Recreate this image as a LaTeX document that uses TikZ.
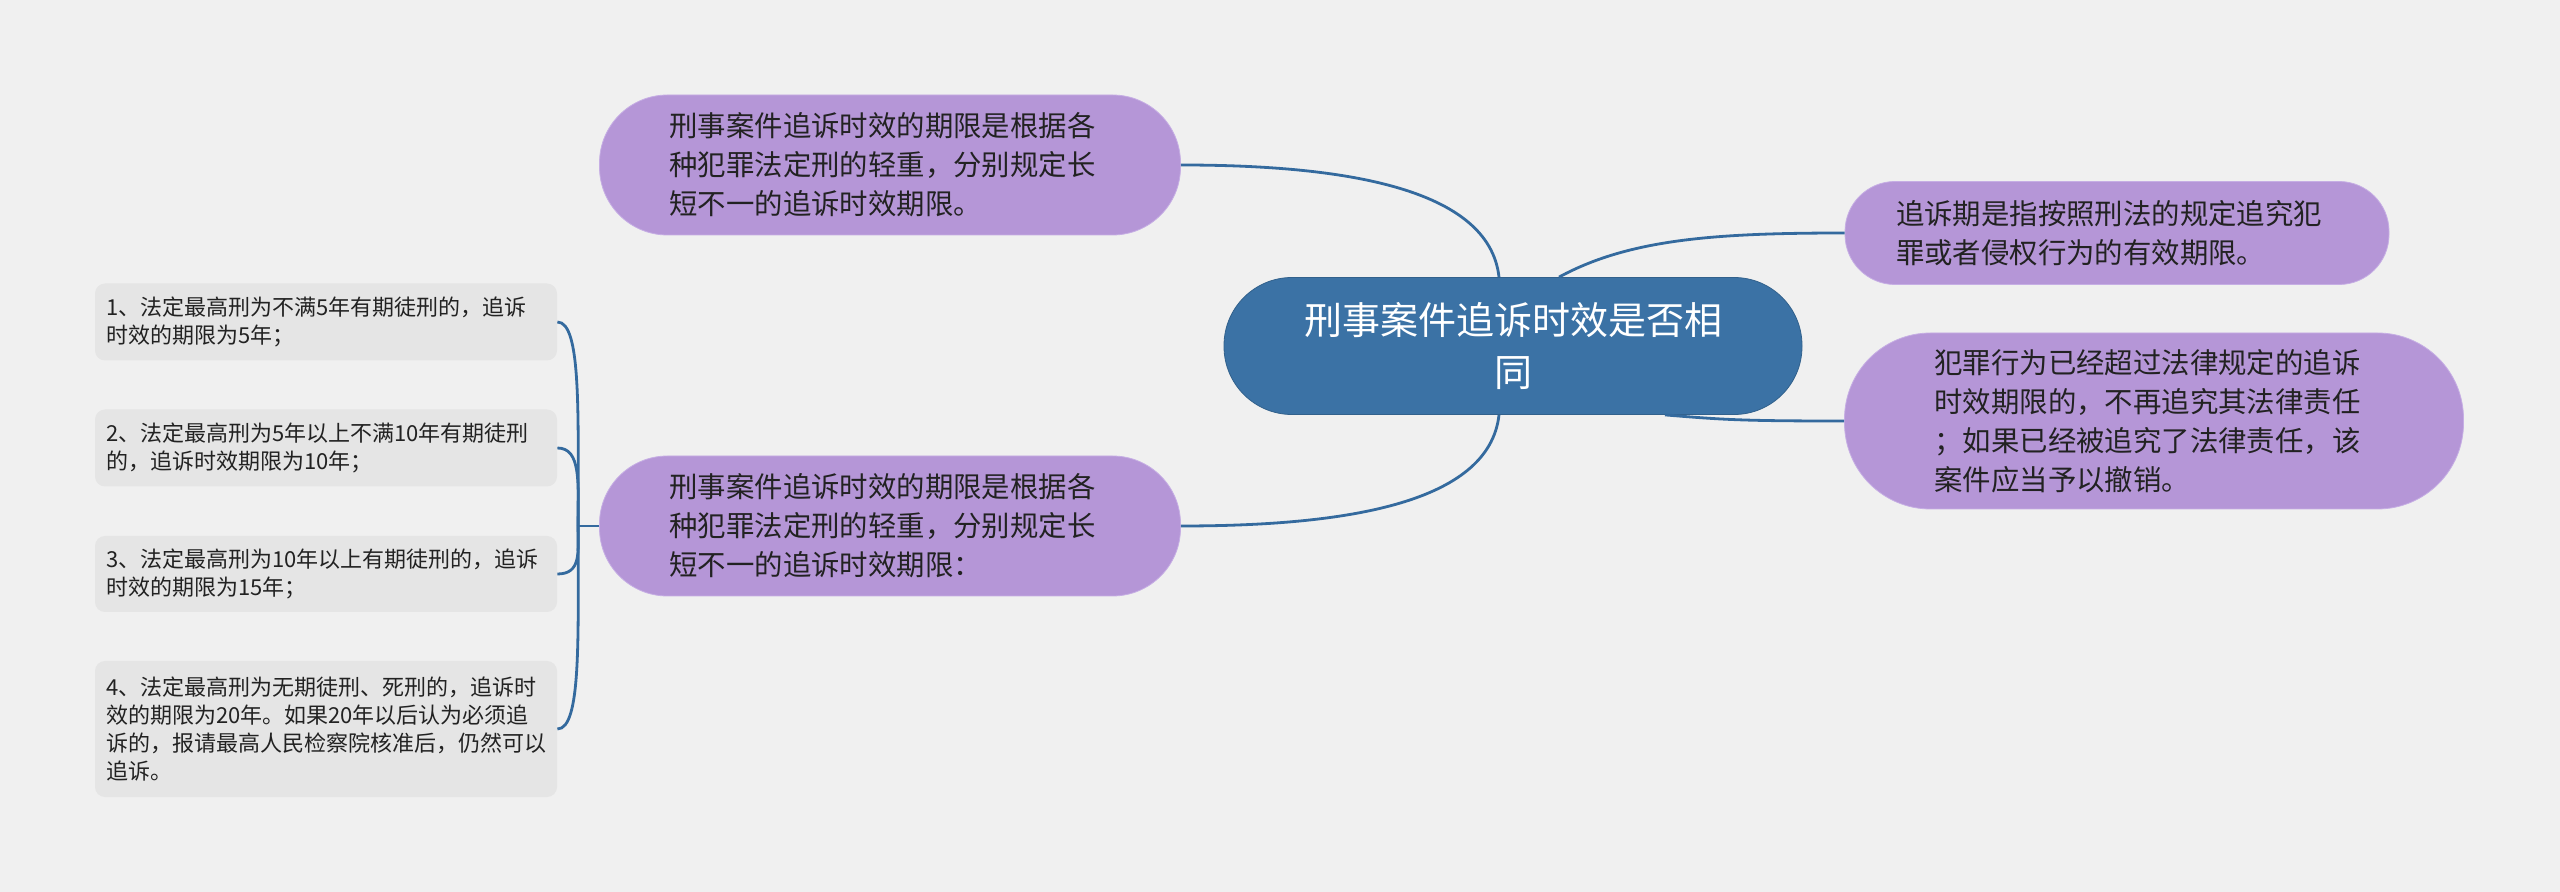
\documentclass[tikz,border=0pt]{standalone}
\usepackage{fontspec}
\newfontfamily\cjk{Noto Sans CJK SC}
\usetikzlibrary{calc}
\definecolor{bgcol}{RGB}{240,240,240}
\definecolor{rootblue}{RGB}{59,114,165}
\definecolor{linkblue}{RGB}{52,106,158}
\definecolor{lilac}{RGB}{181,150,215}
\definecolor{lilacedge}{RGB}{198,174,228}
\definecolor{leafgray}{RGB}{229,229,229}
\definecolor{inkgray}{RGB}{34,34,34}

\begin{document}
\begin{tikzpicture}[x=0.5pt, y=-0.5pt,
    root/.style={draw=rootblue!85!black, fill=rootblue, text=white, rounded corners=34pt,
      minimum width=289pt, minimum height=68.5pt, inner sep=0pt, align=center,
      font=\cjk\fontsize{19}{26}\selectfont},
    topic/.style={draw=lilacedge, fill=lilac, text=inkgray, inner ysep=0pt, align=left,
      font=\cjk\fontsize{14.2}{19.5}\selectfont},
    leaf/.style={fill=leafgray, text=inkgray, rounded corners=5pt, text width=220pt,
      inner xsep=5.5pt, inner ysep=0pt, align=left,
      font=\cjk\fontsize{11}{14}\selectfont},
    link/.style={draw=linkblue, line width=1.4pt}]

    % Background
    \fill[bgcol] (0,0) rectangle (2560,892);
    \useasboundingbox (0,0) rectangle (2560,892);

    % Draw nodes
    \node[root] (root) at (1513,346) {刑事案件追诉时效是否相\\同};

    \node[topic, rounded corners=34pt, inner xsep=35pt, text width=220.5pt, minimum height=70pt] (tl) at (890,165)
      {刑事案件追诉时效的期限是根据各\\种犯罪法定刑的轻重，分别规定长\\短不一的追诉时效期限。};
    \node[topic, rounded corners=34pt, inner xsep=35pt, text width=220.5pt, minimum height=70pt] (bl) at (890,526)
      {刑事案件追诉时效的期限是根据各\\种犯罪法定刑的轻重，分别规定长\\短不一的追诉时效期限：};
    \node[topic, rounded corners=25pt, inner xsep=25.5pt, text width=221pt, minimum height=51.5pt] (rt) at (2117,233)
      {追诉期是指按照刑法的规定追究犯\\罪或者侵权行为的有效期限。};
    \node[topic, rounded corners=43pt, inner xsep=45pt, text width=219.5pt, minimum height=88pt] (rb) at (2154,421)
      {犯罪行为已经超过法律规定的追诉\\时效期限的，不再追究其法律责任\\；如果已经被追究了法律责任，该\\案件应当予以撤销。};

    \node[leaf, minimum height=38.5pt] (leaf1) at (326,322)
      {1、法定最高刑为不满5年有期徒刑的，追诉\\时效的期限为5年；};
    \node[leaf, minimum height=38.5pt] (leaf2) at (326,448)
      {2、法定最高刑为5年以上不满10年有期徒刑\\的，追诉时效期限为10年；};
    \node[leaf, minimum height=38pt] (leaf3) at (326,574)
      {3、法定最高刑为10年以上有期徒刑的，追诉\\时效的期限为15年；};
    \node[leaf, minimum height=68pt] (leaf4) at (326,729)
      {4、法定最高刑为无期徒刑、死刑的，追诉时\\效的期限为20年。如果20年以后认为必须追\\诉的，报请最高人民检察院核准后，仍然可以\\追诉。};

    % Draw connections
    \draw[link] ($(root.north)+(-14,0)$) .. controls +(-10,-90) and +(160,0) .. (tl.east);
    \draw[link] ($(root.south)+(-14,0)$) .. controls +(-10,90) and +(160,0) .. (bl.east);
    \draw[link] ($(root.north)+(46,0)$) .. controls +(70,-38) and +(-130,0) .. (rt.west);
    \draw[link] ($(root.south)+(152,0)$) .. controls +(60,5) and +(-100,0) .. (rb.west);

    \coordinate (fork) at ($(bl.west)+(-21,0)$);
    \draw[link] (bl.west) -- (fork);
    \foreach \i/\dy in {1/-204, 2/-78, 3/48, 4/203}
      \draw[link] (leaf\i.east) .. controls +(24,0) and +(0,{0.55*\dy}) .. (fork);
\end{tikzpicture}
\end{document}
